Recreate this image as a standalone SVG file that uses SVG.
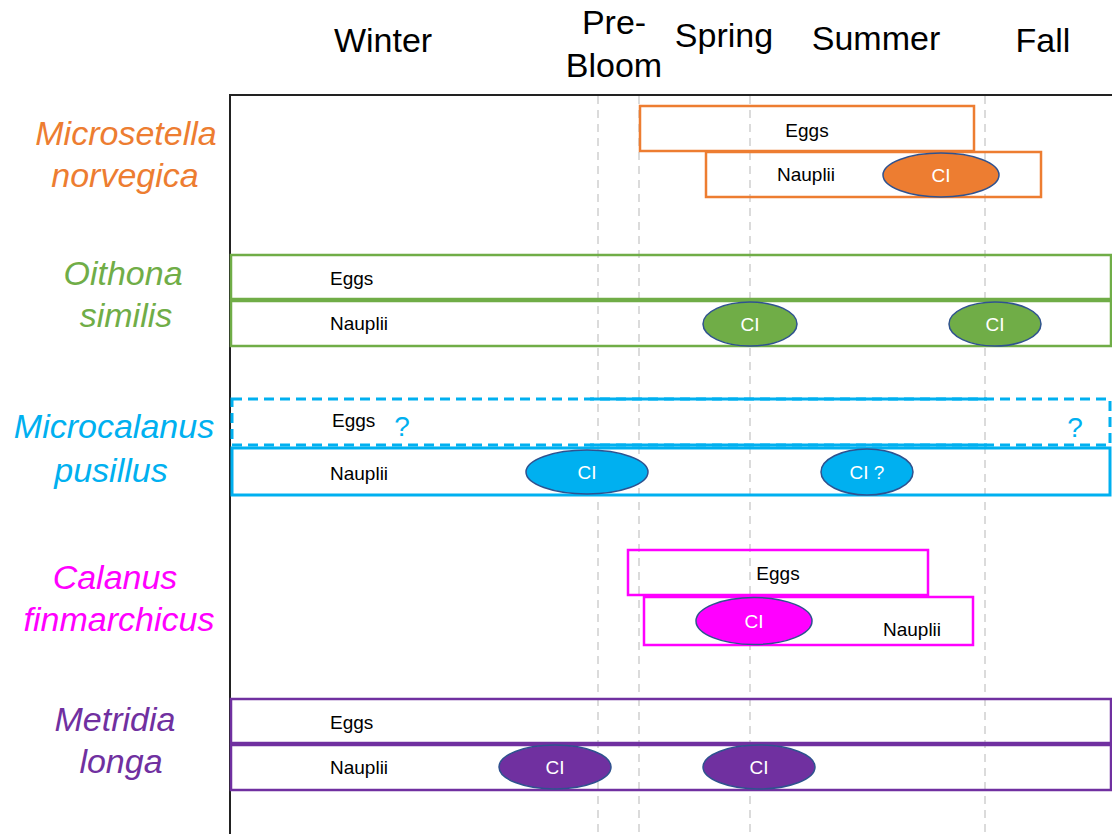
<svg xmlns="http://www.w3.org/2000/svg" width="1112" height="834" viewBox="0 0 1112 834">
<style>
.hdr{font-family:"Liberation Sans",Arial,sans-serif;font-size:34px;fill:#000;text-anchor:middle}
.sp{font-family:"Liberation Sans",Arial,sans-serif;font-size:34px;font-style:italic;text-anchor:middle}
.lbl{font-family:"Liberation Sans",Arial,sans-serif;font-size:19px;fill:#000}
.ci{font-family:"Liberation Sans",Arial,sans-serif;font-size:19px;fill:#fff;text-anchor:middle}
.q{font-family:"Liberation Sans",Arial,sans-serif;font-size:28px;fill:#00B0F0;text-anchor:middle}
.grid{stroke:#cfcfcf;stroke-width:1.5;stroke-dasharray:8 6;fill:none}
.box{fill:none;stroke-width:2.5}
.ell{stroke:#2F528F;stroke-width:1.5}
</style>
<rect width="1112" height="834" fill="#fff"/>
<g id="axes">
<line class="grid" x1="598" y1="96" x2="598" y2="834"/>
<line class="grid" x1="639" y1="96" x2="639" y2="834"/>
<line class="grid" x1="750" y1="96" x2="750" y2="834"/>
<line class="grid" x1="985" y1="96" x2="985" y2="834"/>
<line x1="230" y1="95" x2="1112" y2="95" stroke="#222" stroke-width="2"/>
<line x1="230" y1="94" x2="230" y2="834" stroke="#222" stroke-width="2"/>
</g>
<g id="headers">
<text class="hdr" x="383" y="52">Winter</text>
<text class="hdr" x="614" y="34">Pre-</text>
<text class="hdr" x="614" y="77">Bloom</text>
<text class="hdr" x="724" y="47">Spring</text>
<text class="hdr" x="876" y="50">Summer</text>
<text class="hdr" x="1043" y="52">Fall</text>
</g>
<g id="microsetella">
<text class="sp" x="126" y="145" fill="#ED7D31">Microsetella</text>
<text class="sp" x="125" y="187" fill="#ED7D31">norvegica</text>
<rect class="box" stroke="#ED7D31" x="640" y="106" width="334" height="45"/>
<text class="lbl" x="807" y="137" text-anchor="middle">Eggs</text>
<rect class="box" stroke="#ED7D31" x="706" y="152" width="335" height="45"/>
<text class="lbl" x="806" y="181" text-anchor="middle">Nauplii</text>
<ellipse class="ell" cx="941" cy="175" rx="58" ry="22" fill="#ED7D31"/>
<text class="ci" x="941" y="182">CI</text>
</g>
<g id="oithona">
<text class="sp" x="123" y="285" fill="#70AD47">Oithona</text>
<text class="sp" x="126" y="327" fill="#70AD47">similis</text>
<rect class="box" stroke="#70AD47" x="231" y="255" width="880" height="44"/>
<text class="lbl" x="330" y="285">Eggs</text>
<rect class="box" stroke="#70AD47" x="231" y="301" width="880" height="45"/>
<text class="lbl" x="330" y="330">Nauplii</text>
<ellipse class="ell" cx="750" cy="324" rx="47" ry="22" fill="#70AD47"/>
<text class="ci" x="750" y="331">CI</text>
<ellipse class="ell" cx="995" cy="324" rx="46" ry="22" fill="#70AD47"/>
<text class="ci" x="995" y="331">CI</text>
</g>
<g id="microcalanus">
<text class="sp" x="114" y="438" fill="#00B0F0">Microcalanus</text>
<text class="sp" x="111" y="482" fill="#00B0F0">pusillus</text>
<rect fill="none" stroke="#00B0F0" stroke-width="3" stroke-dasharray="10 6" x="232" y="399" width="878" height="46"/>
<line x1="590" y1="399" x2="987" y2="399" stroke="#00B0F0" stroke-width="3"/>
<line x1="590" y1="445" x2="987" y2="445" stroke="#00B0F0" stroke-width="3"/>
<text class="lbl" x="332" y="427">Eggs</text>
<text class="q" x="402" y="436">?</text>
<text class="q" x="1075" y="437">?</text>
<rect fill="none" stroke="#00B0F0" stroke-width="3" x="232" y="448" width="878" height="47"/>
<text class="lbl" x="330" y="480">Nauplii</text>
<ellipse class="ell" cx="587" cy="472" rx="61" ry="22" fill="#00B0F0"/>
<text class="ci" x="587" y="479">CI</text>
<ellipse class="ell" cx="867" cy="472" rx="46" ry="23" fill="#00B0F0"/>
<text class="ci" x="867" y="479">CI ?</text>
</g>
<g id="calanus">
<text class="sp" x="115" y="589" fill="#FF00FF">Calanus</text>
<text class="sp" x="119" y="631" fill="#FF00FF">finmarchicus</text>
<rect class="box" stroke="#FF00FF" x="628" y="550" width="300" height="45"/>
<text class="lbl" x="778" y="580" text-anchor="middle">Eggs</text>
<rect class="box" stroke="#FF00FF" x="644" y="597" width="329" height="48"/>
<ellipse class="ell" cx="754" cy="621" rx="58" ry="23.5" fill="#FF00FF"/>
<text class="ci" x="754" y="628">CI</text>
<text class="lbl" x="912" y="636" text-anchor="middle">Nauplii</text>
</g>
<g id="metridia">
<text class="sp" x="115" y="731" fill="#7030A0">Metridia</text>
<text class="sp" x="121" y="773" fill="#7030A0">longa</text>
<rect class="box" stroke="#7030A0" x="231" y="699" width="880" height="44"/>
<text class="lbl" x="330" y="729">Eggs</text>
<rect class="box" stroke="#7030A0" x="231" y="745" width="880" height="45"/>
<text class="lbl" x="330" y="774">Nauplii</text>
<ellipse class="ell" cx="555" cy="767" rx="56" ry="22" fill="#7030A0"/>
<text class="ci" x="555" y="774">CI</text>
<ellipse class="ell" cx="759" cy="767" rx="56" ry="22" fill="#7030A0"/>
<text class="ci" x="759" y="774">CI</text>
</g>
</svg>
